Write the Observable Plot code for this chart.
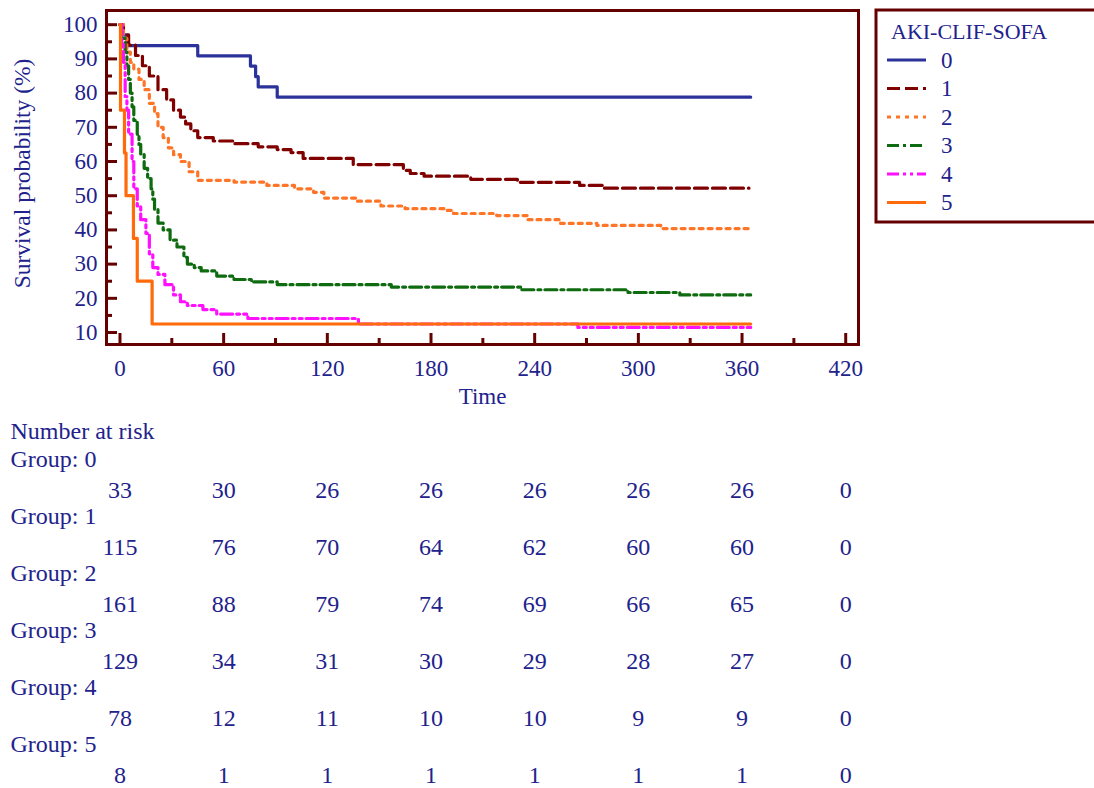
<!DOCTYPE html>
<html><head><meta charset="utf-8">
<script src="https://cdn.jsdelivr.net/npm/d3@7"></script>
<script src="https://cdn.jsdelivr.net/npm/@observablehq/plot@0.6"></script>
<style>
html,body{margin:0;padding:0;background:#fff;}
#wrap{position:relative;width:1094px;height:788px;overflow:hidden;background:#fff;}
#wrap > svg{position:absolute;left:0;}
</style></head><body><div id="wrap"></div>
<script>
// ---- data ----
const groups = ["0", "1", "2", "3", "4", "5"];
const group0Time = [0, 1, 4, 45, 75.5, 78.5, 80, 91, 365];
const group0Surv = [100, 97, 93.9, 90.9, 87.9, 84.8, 81.8, 78.8, 78.8];
const group1Time = [0, 2, 5, 9, 13, 17, 22, 27, 31, 35, 38, 41, 45, 54, 66, 80, 91, 99, 106, 135, 164, 168, 176, 203, 230, 266, 280, 364];
const group1Surv = [100, 97, 94, 91, 88, 85, 81, 78, 75, 73, 71, 69, 67, 66, 65.2, 64.3, 63.5, 62.6, 60.9, 59.1, 57.4, 56.5, 55.7, 54.8, 53.9, 53, 52.2, 52.2];
const group2Time = [0, 2, 4, 6, 8, 11, 14, 17, 20, 22, 25, 28, 31, 35, 40, 45, 66, 85, 101, 112, 118, 137, 151, 165, 189, 193, 218, 236, 255, 276, 313, 365];
const group2Surv = [100, 96, 92, 89, 87, 84, 81, 77, 74, 70, 67, 64, 62, 60, 57, 54.5, 54, 53, 52, 51, 49.3, 48.4, 47, 46.2, 45.7, 44.8, 44.2, 43, 41.9, 41.3, 40.4, 40.4];
const group3Time = [0, 1, 3, 4, 5, 6, 7, 8, 10, 11, 12, 14, 16, 18, 19, 20, 22, 25, 29, 33, 37, 39, 43, 47, 56, 66, 76, 91, 157, 232, 294, 324, 365];
const group3Surv = [100, 96, 92, 88, 84, 80, 76, 72, 68, 65, 62, 58, 55, 52, 49, 46, 42, 40, 37, 35, 32, 30, 29, 28, 26.5, 25.5, 24.8, 24, 23.3, 22.5, 21.7, 21, 21];
const group4Time = [0, 1, 2, 3, 4, 5, 7, 8, 10, 12, 15, 17, 19, 22, 26, 31, 35, 39, 48, 56, 74, 138, 265, 365];
const group4Surv = [100, 95, 89, 79, 75, 68, 60, 52, 47, 43, 39, 33, 29, 27, 24, 21, 19, 17.9, 16.7, 15.4, 14.1, 12.5, 11.5, 11.5];
const group5Time = [0, 0.3, 2.6, 3.5, 7.8, 10, 18.6, 365];
const group5Surv = [100, 75, 62.5, 50, 37.5, 25, 12.5, 12.5];

const riskTimes = [0, 60, 120, 180, 240, 300, 360, 420];
const risk0 = [33, 30, 26, 26, 26, 26, 26, 0];
const risk1 = [115, 76, 70, 64, 62, 60, 60, 0];
const risk2 = [161, 88, 79, 74, 69, 66, 65, 0];
const risk3 = [129, 34, 31, 30, 29, 28, 27, 0];
const risk4 = [78, 12, 11, 10, 10, 9, 9, 0];
const risk5 = [8, 1, 1, 1, 1, 1, 1, 0];

const xMajor = [0, 60, 120, 180, 240, 300, 360, 420];
const xMinor = [30, 90, 150, 210, 270, 330, 390];
const yMajor = [10, 20, 30, 40, 50, 60, 70, 80, 90, 100];
const yMinor = [15, 25, 35, 45, 55, 65, 75, 85, 95];

// ---- styles ----
const txt = "#22228c";
const frameColor = "#640000";
const groupColors = ["#2b339b", "#800000", "#ff7527", "#0f6b0f", "#ff10ff", "#ff6a0a"];
const groupDash = [null, "13,5", "4,5", "12,4,3,4", "12,4,3,4,3,4", null];
const font = "'Liberation Serif', 'Times New Roman', serif";
const xDomain = [-7.8, 427.4];

const series = [[group0Time, group0Surv], [group1Time, group1Surv], [group2Time, group2Surv],
                [group3Time, group3Surv], [group4Time, group4Surv], [group5Time, group5Surv]];
const risks = [risk0, risk1, risk2, risk3, risk4, risk5];

const lineMarks = series.map(([T, S], i) => {
  const opts = {x: "t", y: "s", curve: "step-after", stroke: groupColors[i], strokeWidth: 3.2};
  if (groupDash[i]) opts.strokeDasharray = groupDash[i];
  return Plot.line(T.map((t, j) => ({t, s: S[j]})), opts);
});

const tickStyle = {stroke: frameColor, strokeWidth: 3, label: null, tickFormat: () => ""};

const main = Plot.plot({
  width: 1094, height: 420,
  marginTop: 10, marginLeft: 106, marginRight: 236, marginBottom: 76,
  style: {fontFamily: font, fontSize: "23px", color: txt, background: "transparent", overflow: "visible"},
  x: {domain: xDomain},
  y: {domain: [6.5, 104.15]},
  marks: [
    ...lineMarks,
    Plot.axisY({ticks: yMajor, tickSize: 0, tickPadding: 9, label: null, fill: txt}),
    Plot.axisY({ticks: yMajor, tickSize: -11, ...tickStyle}),
    Plot.axisY({ticks: yMinor, tickSize: -6, ...tickStyle}),
    Plot.axisX({ticks: xMajor, tickSize: 0, tickPadding: 15, label: null, fill: txt}),
    Plot.axisX({ticks: xMajor, tickSize: -11, ...tickStyle}),
    Plot.axisX({ticks: xMinor, tickSize: -6, ...tickStyle}),
    Plot.frame({stroke: frameColor, strokeWidth: 3}),
    Plot.text(["Survival probability (%)"], {frameAnchor: "left", textAnchor: "middle", dx: -84, dy: -4, rotate: -90, fill: txt, fontSize: 23.5}),
    Plot.text(["Time"], {frameAnchor: "bottom", dy: 59, fill: txt, fontSize: 23})
  ]
});
main.style.top = "0px";
document.getElementById("wrap").appendChild(main);

// legend box (drawn into the main svg)
const lg = d3.select(main).append("g").attr("font-family", font).attr("text-anchor", "start");
lg.append("rect").attr("x", 876).attr("y", 10).attr("width", 260).attr("height", 212)
  .attr("fill", "none").attr("stroke", frameColor).attr("stroke-width", 3);
lg.append("text").attr("x", 891).attr("y", 39).attr("fill", txt).attr("font-size", 22)
  .attr("text-anchor", "start").text("AKI-CLIF-SOFA");
groups.forEach((g, i) => {
  const yy = 60 + 28.5 * i;
  const ln = lg.append("line").attr("x1", 887).attr("x2", 926).attr("y1", yy).attr("y2", yy)
    .attr("stroke", groupColors[i]).attr("stroke-width", 3);
  if (groupDash[i]) ln.attr("stroke-dasharray", groupDash[i]);
  lg.append("text").attr("x", 941).attr("y", yy + 7.5).attr("fill", txt).attr("font-size", 23)
    .attr("text-anchor", "start").text(g);
});

// ---- number at risk table ----
const rowData = [{r: 0, s: "Number at risk"}];
groups.forEach((g, k) => rowData.push({r: 1 + 2 * k, s: "Group: " + g}));
const valueData = [];
risks.forEach((arr, k) => arr.forEach((n, j) => valueData.push({r: 2 + 2 * k, t: riskTimes[j], n: String(n)})));

const table = Plot.plot({
  width: 1094, height: 368,
  marginTop: 0, marginBottom: 0, marginLeft: 106, marginRight: 236,
  style: {fontFamily: font, fontSize: "24px", color: txt, background: "transparent", overflow: "visible"},
  x: {domain: xDomain, axis: null},
  y: {domain: [0, 12], range: [10.6, 352.6], axis: null},
  marks: [
    Plot.text(rowData, {y: "r", text: "s", frameAnchor: "left", dx: -96, textAnchor: "start", fill: txt, fontSize: 24}),
    Plot.text(valueData, {x: "t", y: "r", text: "n", dy: 2, fill: txt, fontSize: 24})
  ]
});
table.style.top = "420px";
document.getElementById("wrap").appendChild(table);
</script>
</body></html>
